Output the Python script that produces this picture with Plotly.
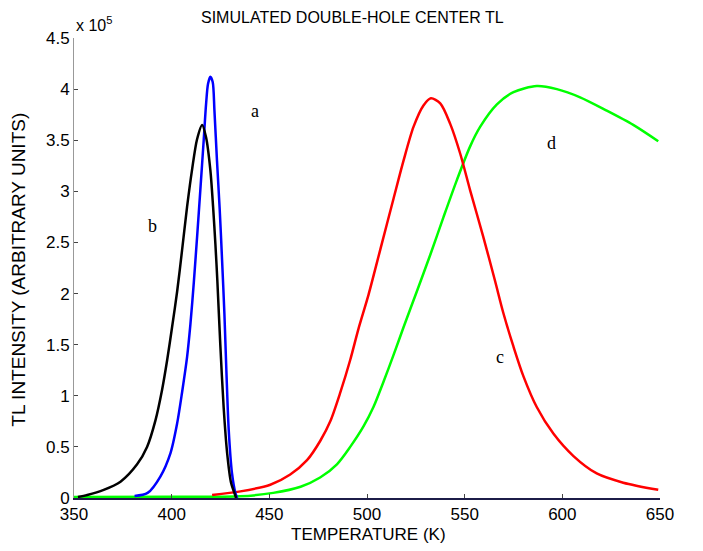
import plotly.graph_objects as go

# Curve a (blue)
a_T = [381.0, 387.7, 394.2, 399.4, 402.8, 405.3, 407.9, 409.6, 411.3, 413.0, 414.7, 416.4,
       417.6, 418.6, 419.8, 421.0, 421.9, 423.2, 424.6, 425.8, 427.0, 428.0, 429.2, 430.9,
       432.6, 433.5]
a_V = [0.02, 0.05, 0.21, 0.44, 0.73, 1.03, 1.38, 1.70, 2.10, 2.55, 3.02, 3.50,
       3.85, 4.05, 4.12, 4.07, 3.79, 3.30, 2.82, 2.33, 1.80, 1.25, 0.67, 0.24,
       0.05, 0.0]

# Curve b (black)
b_T = [352.0, 356.8, 365.2, 373.8, 382.3, 387.4, 391.7, 395.1, 397.7, 400.2, 402.8, 405.3,
       407.9, 410.5, 413.0, 415.6, 417.6, 419.8, 421.2, 422.4, 423.4, 424.9, 426.6, 428.4,
       430.4, 432.1, 433.0]
b_V = [0.01, 0.03, 0.08, 0.16, 0.33, 0.50, 0.76, 1.06, 1.35, 1.67, 2.02, 2.42,
       2.85, 3.22, 3.51, 3.65, 3.53, 3.21, 2.85, 2.48, 2.12, 1.50, 0.89, 0.44,
       0.15, 0.05, 0.0]

# Curve c (red)
c_T = [420.7, 435.2, 450.5, 460.7, 469.3, 476.1, 481.2, 486.3, 491.4, 495.7, 500.8, 506.8,
       513.6, 518.7, 523.8, 528.9, 532.7, 537.5, 542.6, 547.7, 552.8, 559.6, 565.6, 569.8,
       575.0, 580.1, 586.9, 595.4, 605.7, 617.6, 631.2, 649.1]
c_V = [0.03, 0.065, 0.13, 0.23, 0.37, 0.56, 0.75, 1.03, 1.35, 1.66, 1.99, 2.43,
       2.93, 3.30, 3.63, 3.84, 3.91, 3.86, 3.66, 3.37, 3.01, 2.55, 2.12, 1.81,
       1.48, 1.19, 0.89, 0.63, 0.41, 0.24, 0.15, 0.08]

# Curve d (green)
d_T = [350.0, 400.0, 435.0, 452.0, 466.0, 476.0, 484.6, 491.4, 498.2, 503.3, 508.5, 513.6,
       518.7, 525.5, 532.4, 539.2, 546.0, 552.8, 557.9, 566.5, 575.0, 586.9, 597.2, 609.1,
       622.7, 636.3, 649.1]
d_V = [0.01, 0.012, 0.016, 0.05, 0.11, 0.20, 0.33, 0.50, 0.70, 0.89, 1.14, 1.40,
       1.67, 2.02, 2.38, 2.75, 3.11, 3.44, 3.63, 3.85, 3.97, 4.03, 4.00, 3.92,
       3.79, 3.65, 3.49]

x_ticks = [350, 400, 450, 500, 550, 600, 650]
y_ticks = [0, 0.5, 1, 1.5, 2, 2.5, 3, 3.5, 4, 4.5]
y_labels = ["0", "0.5", "1", "1.5", "2", "2.5", "3", "3.5", "4", "4.5"]

labels = ["a", "b", "c", "d"]
label_T = [442.8, 390.2, 568.2, 594.2]
label_V = [3.79, 2.66, 1.38, 3.47]

# page offset (default body margin of the html page)
OFF = 8
W, H = 703 - 2 * OFF, 551 - 2 * OFF
ML = 73.5 - OFF
MT = 37.5 - OFF
MR = 703 - 660 - OFF
MB = H - (498.3 - OFF)
PW, PH = W - ML - MR, H - MT - MB

def px(x):  # page pixel -> paper x
    return (x - OFF - ML) / PW

def py(y):  # page pixel -> paper y
    return (H - MB - (y - OFF)) / PH

fig = go.Figure()
line_kw = dict(width=2.5, shape="spline", smoothing=0.8)
fig.add_trace(go.Scatter(x=d_T, y=d_V, mode="lines", line=dict(color="#00ff00", **line_kw)))
fig.add_trace(go.Scatter(x=c_T, y=c_V, mode="lines", line=dict(color="#ff0000", **line_kw)))
fig.add_trace(go.Scatter(x=a_T, y=a_V, mode="lines", line=dict(color="#0000ff", **line_kw)))
fig.add_trace(go.Scatter(x=b_T, y=b_V, mode="lines", line=dict(color="#000000", **line_kw)))

for t, x, y in zip(labels, label_T, label_V):
    fig.add_annotation(x=x, y=y, text=t, showarrow=False,
                       font=dict(family="Liberation Serif", size=18, color="black"))

fig.add_annotation(xref="paper", yref="paper", x=px(73), y=py(23), xanchor="left",
                   yanchor="middle", text="x 10<sup>5</sup>", showarrow=False,
                   font=dict(family="Liberation Sans", size=16, color="black"))

fig.add_annotation(xref="paper", yref="paper", x=px(352), y=py(17), xanchor="center",
                   yanchor="middle", text="SIMULATED DOUBLE-HOLE CENTER TL", showarrow=False,
                   font=dict(family="Liberation Sans", size=16, color="black"))
fig.add_annotation(xref="paper", yref="paper", x=px(368), y=py(535), xanchor="center",
                   yanchor="middle", text="TEMPERATURE (K)", showarrow=False,
                   font=dict(family="Liberation Sans", size=17, color="black"))
fig.add_annotation(xref="paper", yref="paper", x=px(18), y=py(270), xanchor="center",
                   yanchor="middle", text="TL INTENSITY (ARBITRARY UNITS)", showarrow=False,
                   textangle=-90,
                   font=dict(family="Liberation Sans", size=19, color="black"))

fig.update_layout(
    width=W, height=H,
    margin=dict(l=ML, r=MR, t=MT, b=MB, autoexpand=False),
    paper_bgcolor="white", plot_bgcolor="white",
    showlegend=False,
    font=dict(family="Liberation Sans", size=17, color="black"),
)
fig.update_xaxes(range=[350, 650], tickvals=x_ticks, ticks="inside", ticklen=4,
                 tickcolor="#444", showline=True, linecolor="#1c1c48", linewidth=2,
                 showgrid=False, zeroline=False, automargin=False,
                 tickfont=dict(size=17))
fig.update_yaxes(range=[0, 4.5], tickvals=y_ticks, ticktext=y_labels, ticks="inside",
                 ticklen=4, tickcolor="#444", showline=True, linecolor="#999999",
                 linewidth=1, showgrid=False, zeroline=False, automargin=False,
                 tickfont=dict(size=17))

fig.write_html("out.html")
